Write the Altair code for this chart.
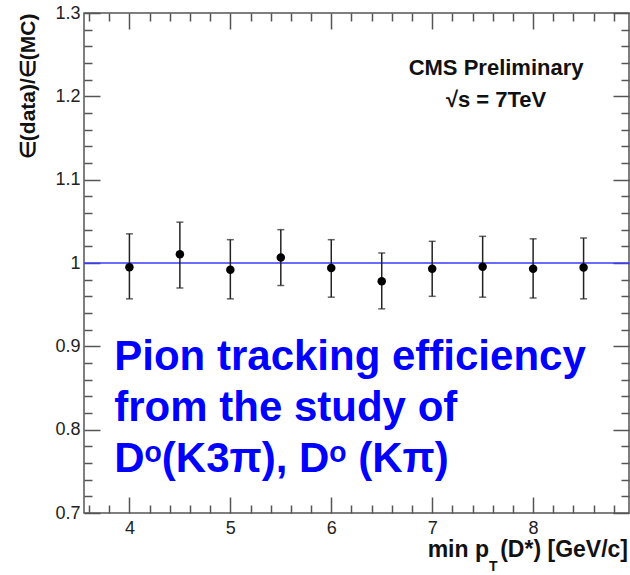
import altair as alt
import pandas as pd

# ---- data ----
pt = [4.0, 4.5, 5.0, 5.5, 6.0, 6.5, 7.0, 7.5, 8.0, 8.5]
ratio = [0.995, 1.0105, 0.992, 1.0065, 0.994, 0.978, 0.993, 0.9955, 0.993, 0.9945]
upper = [1.035, 1.049, 1.028, 1.040, 1.028, 1.012, 1.026, 1.032, 1.029, 1.030]
lower = [0.957, 0.970, 0.957, 0.973, 0.959, 0.945, 0.960, 0.959, 0.958, 0.957]
ref_level = 1.0

x_major = [4, 5, 6, 7, 8]
x_minor = [3.6, 3.8, 4.2, 4.4, 4.6, 4.8, 5.2, 5.4, 5.6, 5.8, 6.2, 6.4, 6.6, 6.8,
           7.2, 7.4, 7.6, 7.8, 8.2, 8.4, 8.6, 8.8]
y_major = [0.7, 0.8, 0.9, 1.0, 1.1, 1.2, 1.3]
y_minor = [0.72, 0.74, 0.76, 0.78, 0.82, 0.84, 0.86, 0.88, 0.92, 0.94, 0.96, 0.98,
           1.02, 1.04, 1.06, 1.08, 1.12, 1.14, 1.16, 1.18, 1.22, 1.24, 1.26, 1.28]

y_title = "∈(data)/∈(MC)"
x_title_parts = ["min p", "T", "(D*) [GeV/c]"]
cms_lines = ["CMS Preliminary", "√s = 7TeV"]
note_lines = ["Pion tracking efficiency", "from the study of", "Dᵒ(K3π), Dᵒ (Kπ)"]

# ---- layout ----
W, H = 545, 500
XDOM = [3.55, 8.95]
YDOM = [0.7, 1.3]
FONT = "Liberation Sans"
TICK = "#555"

df = pd.DataFrame(dict(pt=pt, ratio=ratio, lo=lower, hi=upper))
one = alt.Data(values=[{}])

xs = alt.Scale(domain=XDOM, nice=False, zero=False)
ys = alt.Scale(domain=YDOM, nice=False, zero=False)


def tick_axis(orient, values, size, offset):
    return alt.Axis(orient=orient, values=values, tickSize=size, offset=offset,
                    labels=False, domain=False, grid=False, title=None, ticks=True,
                    tickColor=TICK, tickWidth=1.5)


base = alt.Chart(df)

points = base.mark_circle(size=72, color="black", opacity=1).encode(
    x=alt.X("pt:Q", scale=xs, axis=alt.Axis(
        orient="bottom", values=x_major, ticks=False, tickSize=0, domain=False,
        grid=False, labelPadding=6, labelFontSize=18, labelFont=FONT,
        labelColor="#222", format="d", title=None, labelFlush=False,
        labelOverlap=False)),
    y=alt.Y("ratio:Q", scale=ys, axis=alt.Axis(
        orient="left", values=y_major, ticks=False, tickSize=0, domain=False,
        grid=False, labelPadding=4, labelFontSize=18, labelFont=FONT,
        labelColor="#222", format="~g", labelFlush=False, labelOverlap=False,
        title=y_title, titleFont=FONT, titleFontSize=21, titleFontWeight="bold",
        titleColor="#111", titleX=-56, titleY=0, titleAlign="right",
        titleAngle=270, titleBaseline="middle")),
)


def ghost(xax, yax):
    return base.mark_point(opacity=0).encode(
        x=alt.X("pt:Q", scale=xs, axis=xax),
        y=alt.Y("ratio:Q", scale=ys, axis=yax),
    )


g1 = ghost(tick_axis("top", x_major, 16, -H), tick_axis("right", y_major, 16, -W))
g2 = ghost(tick_axis("top", x_minor, 8, -H), tick_axis("right", y_minor, 8, -W))
g3 = ghost(tick_axis("bottom", x_major, 16, -H), tick_axis("left", y_major, 16, -W))
g4 = ghost(tick_axis("bottom", x_minor, 8, -H), tick_axis("left", y_minor, 8, -W))

bars = base.mark_rule(color="#222", strokeWidth=1.5).encode(
    x=alt.X("pt:Q", scale=xs, axis=None),
    y=alt.Y("lo:Q", scale=ys, axis=None),
    y2="hi:Q",
)
cap_lo = base.mark_tick(orient="horizontal", size=7, thickness=1.5, color="#222").encode(
    x=alt.X("pt:Q", scale=xs, axis=None),
    y=alt.Y("lo:Q", scale=ys, axis=None),
)
cap_hi = base.mark_tick(orient="horizontal", size=7, thickness=1.5, color="#222").encode(
    x=alt.X("pt:Q", scale=xs, axis=None),
    y=alt.Y("hi:Q", scale=ys, axis=None),
)

ref_line = alt.Chart(one).mark_rule(color="#3a3aff", strokeWidth=1.6).encode(
    y=alt.YDatum(ref_level, type="quantitative", scale=ys, axis=None),
)

cms = alt.Chart(one).mark_text(
    text=cms_lines, align="center", baseline="alphabetic", font=FONT,
    fontSize=22, fontWeight="bold", color="#111", lineHeight=32,
).encode(
    x=alt.XDatum(7.633, type="quantitative", scale=xs, axis=None),
    y=alt.YDatum(1.2256, type="quantitative", scale=ys, axis=None),
)

note = alt.Chart(one).mark_text(
    text=note_lines, align="left", baseline="alphabetic", font=FONT,
    fontSize=42, fontWeight="bold", color="#0000ff", lineHeight=51,
).encode(
    x=alt.XDatum(3.85, type="quantitative", scale=xs, axis=None),
    y=alt.YDatum(0.8716, type="quantitative", scale=ys, axis=None),
)


def xtitle_piece(txt, align, dx, dy, size):
    return alt.Chart(one).mark_text(
        text=txt, align=align, baseline="alphabetic", font=FONT, fontSize=size,
        fontWeight="bold", color="#111", dx=dx, dy=dy,
    ).encode(
        x=alt.XDatum(XDOM[1], type="quantitative", scale=xs, axis=None),
        y=alt.YDatum(YDOM[0], type="quantitative", scale=ys, axis=None),
    )


xt1 = xtitle_piece(x_title_parts[0], "right", -140, 44, 23)
xt2 = xtitle_piece(x_title_parts[1], "left", -140, 58, 14)
xt3 = xtitle_piece(x_title_parts[2], "right", -1, 44, 23)

chart = alt.layer(
    g1, g2, g3, g4, ref_line, bars, cap_lo, cap_hi, points, cms, note, xt1, xt2, xt3
).resolve_axis(
    x="independent", y="independent"
).resolve_scale(
    x="shared", y="shared"
).properties(
    width=W, height=H,
    autosize=alt.AutoSizeParams(type="none"),
    padding={"left": 84, "top": 13, "right": 1, "bottom": 62},
    background="white",
).configure_view(
    stroke="#555", strokeWidth=1.5
)

chart.save("out.html", embed_options={"renderer": "svg", "actions": False})
